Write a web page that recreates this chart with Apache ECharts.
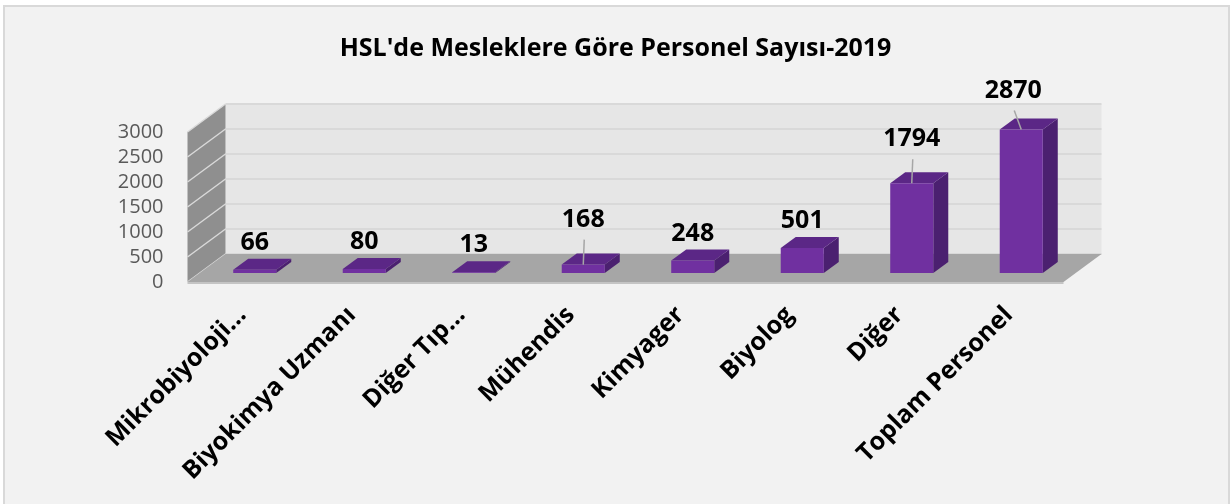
<!DOCTYPE html>
<html>
<head>
<meta charset="utf-8">
<script src="https://cdn.jsdelivr.net/npm/echarts@6/dist/echarts.min.js"></script>
<style>
  html, body { margin: 0; padding: 0; background: #fff; }
  #chart { width: 1231px; height: 504px; }
</style>
</head>
<body>
<div id="chart"></div>
<script>
// veriler
var categories = ['Mikrobiyoloji...', 'Biyokimya Uzmanı', 'Diğer Tıp...', 'Mühendis', 'Kimyager', 'Biyolog', 'Diğer', 'Toplam Personel'];
var values = [66, 80, 13, 168, 248, 501, 1794, 2870];
var yTicks = [0, 500, 1000, 1500, 2000, 2500, 3000];

// etiketlerin elle kaydırılması (Excel'deki gibi), [dx, dy]
var labelShift = [[0, 0], [0, 0], [0, 0], [0, -18], [0, 0], [0, 0], [0, -17], [-8, -12]];

var FONT = '"Open Sans", sans-serif';
var BACK = [25.5, -19];   // arka duvar kayması
var FRONT = [-12.5, 9];   // ön kenar kayması
var DEPTH = [15, -11];    // çubuk derinliği

window.onload = function () {
    var chart = echarts.init(document.getElementById('chart'));

    // duvarlar ve zemin
    function renderWalls(params, api) {
        var cs = params.coordSys;
        var left = cs.x, right = cs.x + cs.width;
        var y0 = api.coord([0, 0])[1];
        var yTop = api.coord([0, yTicks[yTicks.length - 1]])[1];
        var kids = [];
        kids.push({ type: 'rect', shape: { x: left + BACK[0], y: yTop + BACK[1], width: cs.width, height: y0 - yTop },
            style: { fill: '#e6e6e6' } });
        kids.push({ type: 'polygon', shape: { points: [
            [left + BACK[0], yTop + BACK[1]], [left + BACK[0], y0 + BACK[1]],
            [left + FRONT[0], y0 + FRONT[1]], [left + FRONT[0], yTop + FRONT[1]]] },
            style: { fill: '#8f8f8f' } });
        yTicks.forEach(function (t) {
            var y = api.coord([0, t])[1];
            kids.push({ type: 'line', shape: { x1: left + BACK[0], y1: y + BACK[1], x2: right + BACK[0], y2: y + BACK[1] },
                style: { stroke: '#d9d9d9', lineWidth: 2 } });
            kids.push({ type: 'line', shape: { x1: left + BACK[0], y1: y + BACK[1], x2: left + FRONT[0], y2: y + FRONT[1] },
                style: { stroke: '#d9d9d9', lineWidth: 1.5 } });
        });
        kids.push({ type: 'polygon', shape: { points: [
            [left + BACK[0], y0 + BACK[1]], [right + BACK[0], y0 + BACK[1]],
            [right + FRONT[0], y0 + FRONT[1]], [left + FRONT[0], y0 + FRONT[1]]] },
            style: { fill: '#a6a6a6' } });
        kids.push({ type: 'line', shape: { x1: left + FRONT[0], y1: y0 + FRONT[1] + 1, x2: right + FRONT[0], y2: y0 + FRONT[1] + 1 },
            style: { stroke: '#c4c4c4', lineWidth: 2 } });
        return { type: 'group', children: kids };
    }

    // 3B çubuklar
    function renderBar(params, api) {
        var i = api.value(0), v = api.value(1);
        var base = api.coord([i, 0]);
        var top = api.coord([i, v]);
        var w = api.size([1, 0])[0] * 0.393;
        var x0 = base[0] - w / 2, x1 = base[0] + w / 2;
        var yb = base[1], yt = top[1];
        var dx = DEPTH[0], dy = DEPTH[1];
        var sh = labelShift[params.dataIndex];
        var lx = base[0] + sh[0], ly = yt - 27 + sh[1];
        var kids = [
            { type: 'polygon', shape: { points: [[x1, yb], [x1 + dx, yb + dy], [x1 + dx, yt + dy], [x1, yt]] },
              style: { fill: '#4b2070' } },
            { type: 'polygon', shape: { points: [[x0, yt], [x1, yt], [x1 + dx, yt + dy], [x0 + dx, yt + dy]] },
              style: { fill: '#5b2786' } },
            { type: 'rect', shape: { x: x0, y: yt, width: w, height: yb - yt },
              style: { fill: '#7030a0' } }
        ];
        if (sh[1] !== 0) {
            kids.push({ type: 'line', shape: { x1: lx + 1, y1: ly + 20, x2: base[0], y2: yt },
                style: { stroke: '#a6a6a6', lineWidth: 1.5 } });
        }
        kids.push({ type: 'text', style: { text: String(v), x: lx, y: ly, align: 'center', verticalAlign: 'middle',
            fontSize: 25, fontWeight: 'bold', fontFamily: FONT, fill: '#000' } });
        return { type: 'group', children: kids };
    }

    var option = {
        animation: false,
        graphic: [{ type: 'rect', shape: { x: 4, y: 6, width: 1225, height: 520 }, z: -10,
            style: { fill: '#f2f2f2', stroke: '#d9d9d9', lineWidth: 2 } }],
        title: {
            text: "HSL'de Mesleklere Göre Personel Sayısı-2019",
            left: 'center', top: 36, padding: 0,
            textStyle: { fontFamily: FONT, fontSize: 25, fontWeight: 'bold', color: '#000' }
        },
        grid: [
            { left: 200, right: 155, top: 123, height: 150 },
            { left: 187.5, right: 167.5, top: 132, height: 150 }
        ],
        xAxis: [
            { type: 'category', data: categories, gridIndex: 0, show: false },
            { type: 'category', data: categories, gridIndex: 1,
              axisLine: { show: false }, axisTick: { show: false },
              axisLabel: { interval: 0, rotate: 45, margin: 29, fontFamily: FONT, fontSize: 25,
                  fontWeight: 'bold', color: '#000' } }
        ],
        yAxis: [
            { type: 'value', min: 0, max: 3000, interval: 500, gridIndex: 0, show: false },
            { type: 'value', min: 0, max: 3000, interval: 500, gridIndex: 1,
              axisLine: { show: false }, axisTick: { show: false }, splitLine: { show: false },
              axisLabel: { margin: 24, fontFamily: FONT, fontSize: 20, color: '#595959',
                  formatter: function (v) { return String(v); } } }
        ],
        series: [
            { type: 'custom', xAxisIndex: 0, yAxisIndex: 0, renderItem: renderWalls, data: [[0, 0]], z: 1, silent: true },
            { type: 'custom', xAxisIndex: 0, yAxisIndex: 0, renderItem: renderBar, z: 2,
              data: values.map(function (v, i) { return [i, v]; }) }
        ]
    };
    chart.setOption(option);
};
</script>
</body>
</html>
